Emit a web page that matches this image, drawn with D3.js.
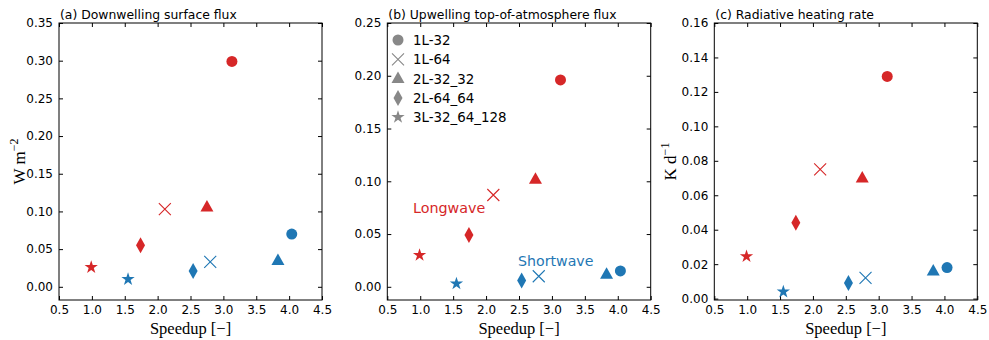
<!DOCTYPE html>
<html><head><meta charset="utf-8">
<script src="https://cdn.jsdelivr.net/npm/d3@7"></script>
<style>body{margin:0;background:#fff}svg{display:block}</style>
</head><body>
<svg id="c" width="989" height="340"></svg>
<script>
const configs = ["1L-32","1L-64","2L-32_32","2L-64_64","3L-32_64_128"];
const markers = ["circle","x","triangle","diamond","star"];
const speedupLW = [3.13, 2.11, 2.75, 1.74, 0.99];
const speedupSW = [4.04, 2.80, 3.83, 2.54, 1.55];
const surfLW = [0.299, 0.103, 0.106, 0.055, 0.026];
const surfSW = [0.070, 0.033, 0.035, 0.021, 0.010];
const toaLW = [0.196, 0.087, 0.102, 0.049, 0.030];
const toaSW = [0.015, 0.010, 0.012, 0.006, 0.003];
const heatLW = [0.129, 0.075, 0.070, 0.044, 0.0245];
const heatSW = [0.018, 0.012, 0.016, 0.009, 0.004];
const xTicks = [0.5,1.0,1.5,2.0,2.5,3.0,3.5,4.0,4.5];
const yTicksA = [0,0.05,0.10,0.15,0.20,0.25,0.30,0.35];
const yTicksB = [0,0.05,0.10,0.15,0.20,0.25];
const yTicksC = [0,0.02,0.04,0.06,0.08,0.10,0.12,0.14,0.16];

const RED = "#d62728", BLUE = "#1f77b4", GRAY = "#888888";
const svg = d3.select("#c");
const plotTop = 23, plotBottom = 300;

function markerPath(m) {
  switch (m) {
    case "circle": return d3.symbol(d3.symbolCircle, 95)();
    case "triangle": return "M0,-7L6.5,4.5L-6.5,4.5Z";
    case "diamond": return "M0,-8L4.5,0L0,8L-4.5,0Z";
    case "star": return d3.symbol(d3.symbolStar, 55)();
    case "x": return "M-6,-6L6,6M-6,6L6,-6";
  }
}
function drawMarker(g, m, x, y, color) {
  const p = g.append("path").attr("d", markerPath(m)).attr("transform", `translate(${x},${y})`);
  if (m === "x") p.attr("fill", "none").attr("stroke", color).attr("stroke-width", 1.1);
  else p.attr("fill", color);
}

function panel(opt) {
  const x = d3.scaleLinear().domain([0.5, 4.5]).range([opt.x0, opt.x1]);
  const y = d3.scaleLinear().domain(opt.ydom).range([plotBottom, plotTop]);
  const g = svg.append("g");
  g.append("g").attr("transform", `translate(0,${plotBottom})`)
    .call(d3.axisBottom(x).tickValues(xTicks).tickSizeInner(-4).tickSizeOuter(0).tickPadding(5.5).tickFormat(d3.format(".1f")));
  g.append("g").attr("transform", `translate(0,${plotTop})`)
    .call(d3.axisTop(x).tickValues(xTicks).tickSizeInner(-4).tickSizeOuter(0).tickFormat(""));
  g.append("g").attr("transform", `translate(${opt.x0},0)`)
    .call(d3.axisLeft(y).tickValues(opt.yTicks).tickSizeInner(-4).tickSizeOuter(0).tickPadding(6).tickFormat(opt.fmt));
  g.append("g").attr("transform", `translate(${opt.x1},0)`)
    .call(d3.axisRight(y).tickValues(opt.yTicks).tickSizeInner(-4).tickSizeOuter(0).tickFormat(""));
  g.selectAll(".domain").remove();
  g.selectAll(".tick line").attr("stroke", "#000").attr("stroke-width", 1);
  g.selectAll(".tick text").attr("font-family", "DejaVu Sans").attr("font-size", 12).attr("fill", "#000");
  g.append("rect").attr("x", opt.x0).attr("y", plotTop).attr("width", opt.x1 - opt.x0).attr("height", plotBottom - plotTop)
    .attr("fill", "none").attr("stroke", "#000").attr("stroke-width", 1);
  g.append("text").attr("x", opt.x0 + 1).attr("y", plotTop - 4).attr("font-family", "DejaVu Sans").attr("font-size", 12.4)
    .text(opt.title);
  const xl = g.append("text").attr("x", (opt.x0 + opt.x1) / 2).attr("y", 334).attr("text-anchor", "middle")
    .attr("font-family", "Liberation Serif").attr("font-size", 16.5);
  xl.append("tspan").text("Speedup ");
  xl.append("tspan").text("[−]");
  if (opt.ylab) {
    const yl = g.append("text").attr("transform", `translate(${opt.ylx},${(plotTop + plotBottom) / 2}) rotate(-90)`)
      .attr("text-anchor", "middle").attr("font-family", "Liberation Serif").attr("font-size", 17);
    yl.append("tspan").text(opt.ylab[0]);
    yl.append("tspan").attr("dy", -7).attr("font-size", 12).text(opt.ylab[1]);
  }
  configs.forEach((c, i) => {
    drawMarker(g, markers[i], x(speedupLW[i]), y(opt.lw[i]), RED);
    drawMarker(g, markers[i], x(speedupSW[i]), y(opt.sw[i]), BLUE);
  });
  return {g, x, y};
}

panel({x0: 59, x1: 322, ydom: [-0.0175, 0.35], yTicks: yTicksA, fmt: d3.format(".2f"),
  title: "(a) Downwelling surface flux", ylab: ["W m", "−2"], ylx: 25, lw: surfLW, sw: surfSW});
const pb = panel({x0: 387.3, x1: 650.7, ydom: [-0.0125, 0.25], yTicks: yTicksB, fmt: d3.format(".2f"),
  title: "(b) Upwelling top-of-atmosphere flux", ylab: null, lw: toaLW, sw: toaSW});
panel({x0: 714.3, x1: 977.3, ydom: [-0.0008, 0.16], yTicks: yTicksC, fmt: d3.format(".2f"),
  title: "(c) Radiative heating rate", ylab: ["K d", "−1"], ylx: 676, lw: heatLW, sw: heatSW});

const leg = pb.g.append("g");
configs.forEach((c, i) => {
  const ly = 40 + i * 19.3;
  drawMarker(leg, markers[i], 398, ly, GRAY);
  leg.append("text").attr("x", 413).attr("y", ly + 5).attr("font-family", "DejaVu Sans").attr("font-size", 13.4).text(c);
});
pb.g.append("text").attr("x", 413).attr("y", 213).attr("font-family", "DejaVu Sans").attr("font-size", 14.3)
  .attr("fill", RED).text("Longwave");
pb.g.append("text").attr("x", 518).attr("y", 266).attr("font-family", "DejaVu Sans").attr("font-size", 14.2)
  .attr("fill", BLUE).text("Shortwave");
</script>
</body></html>
